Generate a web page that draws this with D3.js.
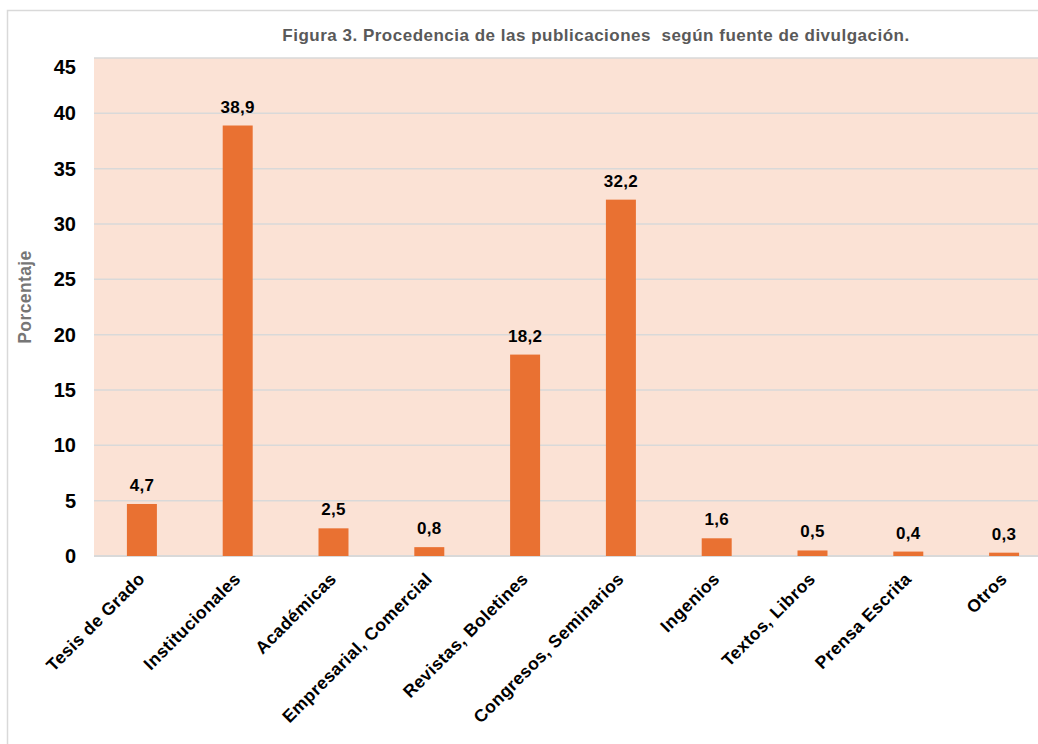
<!DOCTYPE html>
<html>
<head>
<meta charset="utf-8">
<script src="https://cdn.jsdelivr.net/npm/d3@7"></script>
<style>
  body { margin: 0; background: #fff; }
  svg { display: block; font-family: "Liberation Sans", Arial, sans-serif; }
</style>
</head>
<body>
<div id="chart"></div>
<script>
// ===================== DATA =====================
const categories = ["Tesis de Grado", "Institucionales", "Académicas", "Empresarial, Comercial",
  "Revistas, Boletines", "Congresos, Seminarios", "Ingenios", "Textos, Libros", "Prensa Escrita", "Otros"];
const values = [4.7, 38.9, 2.5, 0.8, 18.2, 32.2, 1.6, 0.5, 0.4, 0.3];
const yTicks = [0, 5, 10, 15, 20, 25, 30, 35, 40, 45];
const title = "Figura 3. Procedencia de las publicaciones  según fuente de divulgación.";
const yTitle = "Porcentaje";

// ===================== CHART =====================
const width = 1038, height = 744;
const plot = { left: 94, right: 1052, top: 58, bottom: 556 };

const svg = d3.select("#chart").append("svg")
  .attr("width", width)
  .attr("height", height);

// outer chart border (runs off the right/bottom edge)
svg.append("rect")
  .attr("x", 7.5).attr("y", 10.5)
  .attr("width", 1200).attr("height", 900)
  .attr("fill", "#fff")
  .attr("stroke", "#d9d9d9")
  .attr("stroke-width", 1.5);

const x = d3.scaleBand()
  .domain(categories)
  .range([plot.left, plot.right])
  .paddingInner(0.687)
  .paddingOuter(0.687 / 2);

const y = d3.scaleLinear()
  .domain([0, 45])
  .range([plot.bottom, plot.top]);

// plot background
svg.append("rect")
  .attr("x", plot.left).attr("y", plot.top)
  .attr("width", plot.right - plot.left)
  .attr("height", plot.bottom - plot.top)
  .attr("fill", "#fbe2d5");

// gridlines
svg.append("g")
  .selectAll("line")
  .data(yTicks)
  .enter()
  .append("line")
  .attr("x1", plot.left).attr("x2", plot.right)
  .attr("y1", d => y(d)).attr("y2", d => y(d))
  .attr("stroke", "#d9d9d9")
  .attr("stroke-width", d => d === 0 ? 2 : 1.5);

// y tick labels (top one is pushed down like the original)
svg.append("g")
  .selectAll("text")
  .data(yTicks)
  .enter()
  .append("text")
  .attr("x", 76)
  .attr("y", d => Math.max(y(d), plot.top + 8.5))
  .attr("dy", "0.35em")
  .attr("text-anchor", "end")
  .attr("font-size", 20)
  .attr("font-weight", "bold")
  .attr("fill", "#000")
  .text(d => d);

// bars
svg.append("g")
  .selectAll("rect")
  .data(values)
  .enter()
  .append("rect")
  .attr("x", (d, i) => x(categories[i]))
  .attr("y", d => y(d))
  .attr("width", x.bandwidth())
  .attr("height", d => y(0) - y(d))
  .attr("fill", "#e97132");

// value labels
svg.append("g")
  .selectAll("text")
  .data(values)
  .enter()
  .append("text")
  .attr("x", (d, i) => x(categories[i]) + x.bandwidth() / 2)
  .attr("y", d => y(d) - 13)
  .attr("text-anchor", "middle")
  .attr("font-size", 17)
  .attr("letter-spacing", 0.3)
  .attr("font-weight", "bold")
  .attr("fill", "#000")
  .text(d => d.toFixed(1).replace(".", ","));

// category labels
svg.append("g")
  .selectAll("text")
  .data(categories)
  .enter()
  .append("text")
  .attr("transform", d => `translate(${x(d) + x.bandwidth() / 2 + 4},${plot.bottom + 24}) rotate(-45)`)
  .attr("text-anchor", "end")
  .attr("font-size", 17.5)
  .attr("letter-spacing", 0.4)
  .attr("font-weight", "bold")
  .attr("fill", "#000")
  .text(d => d);

// title
svg.append("text")
  .attr("x", 596).attr("y", 41)
  .attr("text-anchor", "middle")
  .attr("font-size", 17)
  .attr("letter-spacing", 0.5)
  .attr("font-weight", "bold")
  .attr("fill", "#595959")
  .style("white-space", "pre")
  .text(title);

// y axis title
svg.append("text")
  .attr("transform", `translate(31,297) rotate(-90)`)
  .attr("text-anchor", "middle")
  .attr("font-size", 17.5)
  .attr("letter-spacing", 0.4)
  .attr("font-weight", "bold")
  .attr("fill", "#767676")
  .text(yTitle);
</script>
</body>
</html>
